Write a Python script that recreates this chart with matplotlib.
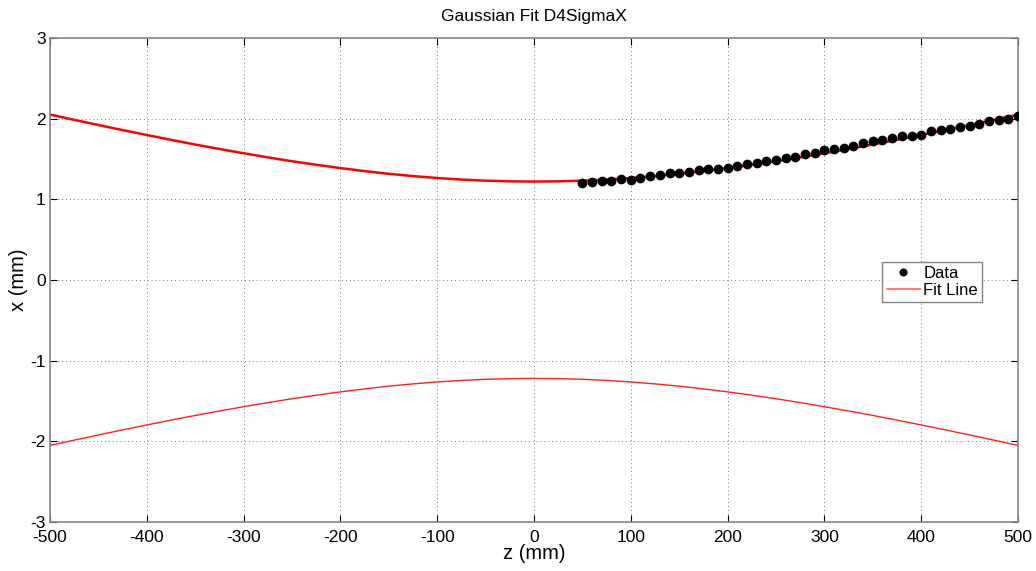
import matplotlib.pyplot as plt

# measured beam width (mm) at each z position (mm)
z_data = list(range(50, 501, 10))
x_data = [1.205, 1.213, 1.225, 1.230, 1.246, 1.243, 1.267, 1.283, 1.304, 1.321,
          1.329, 1.342, 1.358, 1.382, 1.374, 1.391, 1.416, 1.441, 1.453, 1.481,
          1.485, 1.508, 1.528, 1.556, 1.568, 1.609, 1.618, 1.630, 1.667,
          1.700, 1.720, 1.741, 1.762, 1.782, 1.791, 1.795, 1.849, 1.865, 1.877,
          1.894, 1.915, 1.936, 1.973, 1.985, 1.998, 2.030]

# fit curve, sampled every 25 mm
z_fit = list(range(-500, 501, 25))
x_fit_half = [1.220, 1.223, 1.231, 1.245, 1.264, 1.288, 1.316, 1.350, 1.387,
              1.428, 1.472, 1.520, 1.571, 1.624, 1.679, 1.737, 1.797, 1.858,
              1.921, 1.985, 2.051]
x_fit = x_fit_half[:0:-1] + x_fit_half

plt.rcParams['font.family'] = ['Liberation Sans', 'DejaVu Sans']
plt.rcParams['axes.unicode_minus'] = False

fig = plt.figure(figsize=(10.36, 5.71), dpi=100)
ax = fig.add_axes([0.0483, 0.0858, 0.9343, 0.8477])

ax.plot(z_fit, x_fit, color='red', lw=1.8, zorder=2)
ax.plot(z_fit, [-v for v in x_fit], color='#ff2020', lw=1.0, zorder=2)
ax.plot(z_data, x_data, 'o', color='black', ms=6, zorder=3, label='Data')
ax.plot([], [], color='#ff6060', lw=1.2, label='Fit Line')

ax.set_xlim(-500, 500)
ax.set_ylim(-3, 3)
ax.set_xticks(range(-500, 501, 100))
ax.set_yticks(range(-3, 4))
ax.grid(True, linestyle=(0, (1, 3)), color='#777777', lw=0.7)
ax.tick_params(direction='in', length=5, labelsize=12.5, top=True, right=True,
               color='black', pad=3)
ax.tick_params(axis='x', pad=6)
for s in ax.spines.values():
    s.set_color('#888888')
    s.set_linewidth(1.2)

ax.set_title('Gaussian Fit D4SigmaX', fontsize=12.5, pad=12)
ax.set_xlabel('z (mm)', fontsize=14.5, labelpad=-1)
ax.set_ylabel('x (mm)', fontsize=14.5, labelpad=2)

leg = ax.legend(loc='upper left', bbox_to_anchor=(0.860, 0.537), fontsize=12,
                frameon=True, fancybox=False, edgecolor='#666666',
                handlelength=2.0, handletextpad=0.2, borderpad=0.25,
                labelspacing=0.1, markerscale=0.8, borderaxespad=0)
leg.get_frame().set_linewidth(1.0)

fig.savefig('out.png', dpi=100)
